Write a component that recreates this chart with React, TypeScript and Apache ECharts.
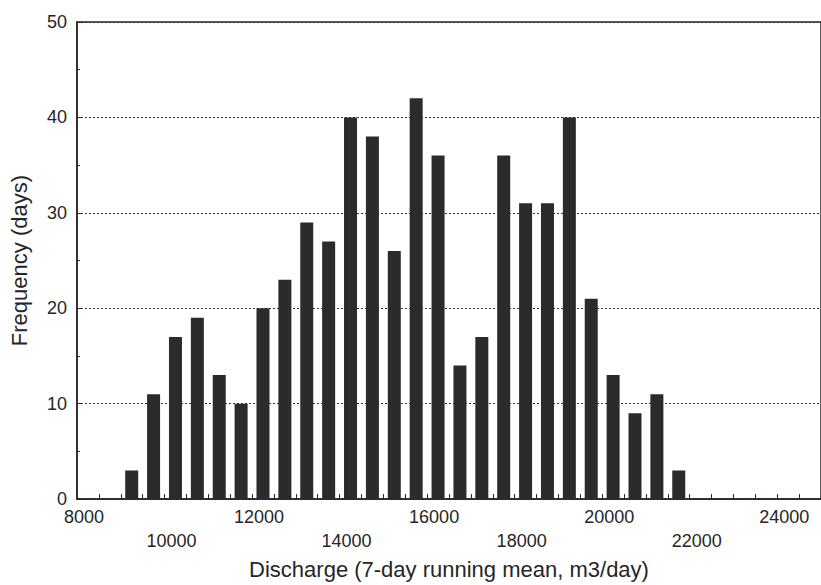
import React, { useEffect, useRef } from "react";
import * as echarts from "echarts";

// Bin centres (m3/day) and frequencies (days)
const binCenters = [
  9250, 9750, 10250, 10750, 11250, 11750, 12250, 12750, 13250, 13750,
  14250, 14750, 15250, 15750, 16250, 16750, 17250, 17750, 18250, 18750,
  19250, 19750, 20250, 20750, 21250, 21750,
];
const frequencies = [
  3, 11, 17, 19, 13, 10, 20, 23, 29, 27,
  40, 38, 26, 42, 36, 14, 17, 36, 31, 31,
  40, 21, 13, 9, 11, 3,
];

const xTitle = "Discharge (7-day running mean, m3/day)";
const yTitle = "Frequency (days)";

const FONT = "Liberation Sans, Arial, Helvetica, sans-serif";
const INK = "#262626";

export default function App() {
  const ref = useRef<HTMLDivElement>(null);

  useEffect(() => {
    if (!ref.current) return;
    const chart = echarts.init(ref.current, null, { renderer: "svg" });
    const data = binCenters.map((c, i) => [c, frequencies[i]]);
    chart.setOption({
      animation: false,
      backgroundColor: "#ffffff",
      grid: {
        left: 75,
        top: 22,
        height: 484,
        width: 752,
        show: true,
        borderColor: INK,
        borderWidth: 1.5,
        backgroundColor: "transparent",
      },
      xAxis: {
        type: "value",
        min: 8000,
        max: 25000,
        interval: 2000,
        name: xTitle,
        nameLocation: "middle",
        nameGap: 51,
        nameTextStyle: { fontFamily: FONT, fontSize: 22, color: INK },
        axisLine: { show: true, lineStyle: { color: INK, width: 1.5 } },
        axisTick: { show: true, inside: true, length: 5, lineStyle: { color: INK } },
        minorTick: { show: true, splitNumber: 4, length: 5, lineStyle: { color: INK } },
        splitLine: { show: false },
        axisLabel: {
          fontFamily: FONT,
          fontSize: 18,
          color: INK,
          margin: 6,
          lineHeight: 24,
          showMaxLabel: false,
          padding: [0, 0, 0, 14],
          formatter: (v: number) =>
            Math.round((v - 8000) / 2000) % 2 === 1 ? "\n" + v : String(v),
        },
      },
      yAxis: {
        type: "value",
        min: 0,
        max: 50,
        interval: 10,
        name: yTitle,
        nameLocation: "middle",
        nameGap: 47,
        nameTextStyle: { fontFamily: FONT, fontSize: 22, color: INK },
        axisLine: { show: true, lineStyle: { color: INK, width: 1.5 } },
        axisTick: { show: true, inside: true, length: 6, lineStyle: { color: INK } },
        minorTick: { show: true, splitNumber: 2, length: 3, lineStyle: { color: INK } },
        splitLine: {
          show: true,
          lineStyle: { color: "#333333", width: 1, type: [2, 2] },
        },
        axisLabel: {
          fontFamily: FONT,
          fontSize: 18,
          color: INK,
          margin: 10,
        },
      },
      series: [
        {
          type: "bar",
          data,
          barWidth: 13,
          itemStyle: { color: "#2b2b2b" },
          z: 3,
        },
      ],
    });
    return () => chart.dispose();
  }, []);

  return (
    <div
      ref={ref}
      style={{ position: "absolute", left: 0, top: 0, width: 821, height: 585 }}
    />
  );
}
